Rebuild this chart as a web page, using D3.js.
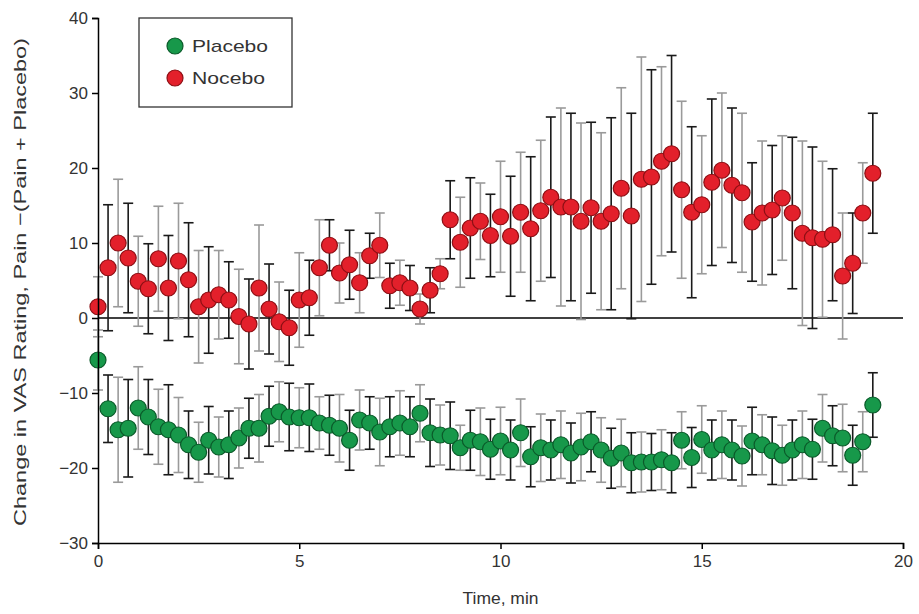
<!DOCTYPE html>
<html>
<head>
<meta charset="utf-8">
<script src="https://cdn.jsdelivr.net/npm/d3@7"></script>
<style>
  body { margin: 0; background: #fff; }
  svg { display: block; font-family: "Liberation Sans Narrow", "Liberation Sans", Arial, sans-serif; }
  .axis path, .axis line { stroke: #000; stroke-width: 1.5; }
  .axis text { font-size: 17px; fill: #333; }
  .axis-labels { font-size: 17px; fill: #333; }
</style>
</head>
<body>
<svg width="919" height="614"></svg>
<script>
// time points (min)
const times = [0, 0.25, 0.5, 0.75, 1, 1.25, 1.5, 1.75, 2, 2.25, 2.5, 2.75, 3, 3.25, 3.5, 3.75,
    4, 4.25, 4.5, 4.75, 5, 5.25, 5.5, 5.75, 6, 6.25, 6.5, 6.75, 7, 7.25, 7.5, 7.75,
    8, 8.25, 8.5, 8.75, 9, 9.25, 9.5, 9.75, 10, 10.25, 10.5, 10.75, 11, 11.25, 11.5, 11.75,
    12, 12.25, 12.5, 12.75, 13, 13.25, 13.5, 13.75, 14, 14.25, 14.5, 14.75, 15, 15.25, 15.5, 15.75,
    16, 16.25, 16.5, 16.75, 17, 17.25, 17.5, 17.75, 18, 18.25, 18.5, 18.75, 19, 19.25];

// Nocebo means and error
const nocebo = [1.5, 6.7, 10, 8, 4.9, 3.9, 7.9, 4, 7.6, 5.1, 1.5, 2.4, 3.1, 2.4, 0.2, -0.8,
    4, 1.2, -0.5, -1.3, 2.4, 2.7, 6.7, 9.7, 6, 7.1, 4.7, 8.3, 9.7, 4.3, 4.7, 4,
    1.2, 3.7, 5.9, 13.1, 10.1, 12, 12.9, 11, 13.5, 10.9, 14.1, 11.9, 14.3, 16.1, 14.8, 14.8,
    12.9, 14.7, 12.9, 13.9, 17.3, 13.6, 18.5, 18.8, 20.9, 21.9, 17.1, 14.1, 15.1, 18.1, 19.7, 17.7,
    16.7, 12.8, 14, 14.4, 16, 14, 11.3, 10.7, 10.5, 11.1, 5.6, 7.3, 14, 19.3];
const noceboErr = [4, 8.4, 8.5, 7.3, 6, 6, 7, 7, 7.7, 7.6, 7.5, 7.1, 5.9, 5.1, 6.3, 6,
    8.4, 6, 5.3, 5, 6.3, 5, 6.4, 3.4, 4, 4.6, 4, 3, 4.3, 3, 3, 3,
    2, 3, 2, 5.2, 6, 6.7, 5.1, 5.5, 7.4, 8, 8, 9.6, 9.4, 10.7, 13.2, 12.5,
    13.1, 11.4, 11.8, 12.8, 13.4, 13.7, 16.3, 14.3, 12.6, 13.1, 11.8, 11.4, 9.2, 11.1, 10.3, 10.3,
    10.6, 7.9, 9.6, 8.6, 8.3, 10.1, 12.3, 12.1, 10.4, 8.8, 8.4, 6.7, 6.7, 8];

// Placebo means and error
const placebo = [-5.6, -12.1, -14.9, -14.7, -12, -13.2, -14.5, -14.9, -15.6, -16.9, -17.9, -16.3, -17.2, -16.9, -16, -14.7,
    -14.7, -13.1, -12.5, -13.2, -13.3, -13.3, -14, -14.3, -14.7, -16.3, -13.6, -14, -15.2, -14.5, -14, -14.5,
    -12.7, -15.3, -15.6, -15.7, -17.3, -16.3, -16.5, -17.5, -16.4, -17.6, -15.3, -18.5, -17.3, -17.6, -16.9, -18,
    -17.2, -16.5, -17.6, -18.7, -18, -19.3, -19.2, -19.2, -18.9, -19.3, -16.3, -18.6, -16.2, -17.6, -16.9, -17.6,
    -18.4, -16.4, -16.9, -17.7, -18.3, -17.6, -16.9, -17.5, -14.7, -15.7, -16, -18.3, -16.5, -11.6];
const placeboErr = [4, 4.5, 7, 6.5, 5.5, 5, 5, 6, 5, 4.5, 4, 4.5, 4, 4.5, 4, 4,
    4.5, 4, 4, 4.5, 4, 4.5, 3.5, 4, 4.5, 4, 4, 3.5, 4.5, 4, 4.3, 4,
    3.8, 4.5, 4, 4.5, 3, 4, 4.5, 4, 4.5, 4, 4.5, 4, 4.5, 4, 4.5, 4,
    4.5, 4, 4.3, 4, 4.5, 4, 4, 3.8, 4, 4, 3.8, 4, 4.5, 4, 4.5, 4,
    4, 4.5, 4, 4.5, 4, 4, 4.5, 4, 4.5, 4, 4.5, 4, 4, 4.3];

const xTicks = [0, 5, 10, 15, 20];
const yTicks = [-30, -20, -10, 0, 10, 20, 30, 40];

const groups = [
    { name: "Placebo", values: placebo, errs: placeboErr, fill: "#17984a", stroke: "#0b5a2a" },
    { name: "Nocebo", values: nocebo, errs: noceboErr, fill: "#e3202b", stroke: "#8c0f14" }
];

const svg = d3.select("svg");

const x = d3.scaleLinear().domain([0, 20]).range([98, 903]);
const y = d3.scaleLinear().domain([-30, 40]).range([543, 18]);

// zero line
svg.append("line")
    .attr("x1", x(0)).attr("x2", x(20))
    .attr("y1", y(0)).attr("y2", y(0))
    .attr("stroke", "#000").attr("stroke-width", 1.5);

// error bars, alternating black / gray
groups.forEach(g => {
    const rows = times.map((t, i) => ({ t: t, v: g.values[i], e: g.errs[i], i: i }));
    const bars = svg.append("g").selectAll("g")
        .data(rows)
        .join("g")
        .attr("stroke", d => d.i % 2 ? "#1a1a1a" : "#9a9a9a")
        .attr("stroke-width", 1.6);

    bars.append("line")
        .attr("x1", d => x(d.t)).attr("x2", d => x(d.t))
        .attr("y1", d => y(d.v - d.e)).attr("y2", d => y(d.v + d.e));
    bars.append("line")
        .attr("x1", d => x(d.t) - 5).attr("x2", d => x(d.t) + 5)
        .attr("y1", d => y(d.v + d.e)).attr("y2", d => y(d.v + d.e));
    bars.append("line")
        .attr("x1", d => x(d.t) - 5).attr("x2", d => x(d.t) + 5)
        .attr("y1", d => y(d.v - d.e)).attr("y2", d => y(d.v - d.e));
});

// points
groups.forEach(g => {
    svg.append("g").selectAll("circle")
        .data(times.map((t, i) => ({ t: t, v: g.values[i] })))
        .join("circle")
        .attr("cx", d => x(d.t))
        .attr("cy", d => y(d.v))
        .attr("r", 8)
        .attr("fill", g.fill)
        .attr("stroke", g.stroke)
        .attr("stroke-width", 1.2);
});

// axes
svg.append("g")
    .attr("class", "axis")
    .attr("transform", "translate(0," + y(-30) + ")")
    .call(d3.axisBottom(x).tickValues(xTicks).tickSize(6).tickPadding(6).tickFormat(d3.format("d")));

svg.append("g")
    .attr("class", "axis")
    .attr("transform", "translate(" + x(0) + ",0)")
    .call(d3.axisLeft(y).tickValues(yTicks).tickSize(6).tickPadding(4)
        .tickFormat(d => d < 0 ? "\u2212" + Math.abs(d) : d));

// axis labels
svg.append("text")
    .attr("class", "axis-labels")
    .attr("x", x(10))
    .attr("y", 604)
    .attr("text-anchor", "middle")
    .attr("textLength", 76)
    .attr("lengthAdjust", "spacingAndGlyphs")
    .text("Time, min");

svg.append("text")
    .attr("class", "axis-labels")
    .attr("transform", "translate(26,282) rotate(-90)")
    .attr("text-anchor", "middle")
    .attr("textLength", 488)
    .attr("lengthAdjust", "spacingAndGlyphs")
    .text("Change in VAS Rating, Pain \u2212(Pain + Placebo)");

// legend
const legend = svg.append("g").attr("transform", "translate(139,18)");
legend.append("rect")
    .attr("width", 153).attr("height", 89)
    .attr("fill", "#fff").attr("stroke", "#333").attr("stroke-width", 1.3);
groups.forEach((g, i) => {
    legend.append("circle")
        .attr("cx", 36).attr("cy", 28 + i * 32)
        .attr("r", 8)
        .attr("fill", g.fill).attr("stroke", g.stroke).attr("stroke-width", 1.2);
    legend.append("text")
        .attr("x", 53).attr("y", 34 + i * 32)
        .attr("font-size", 17)
        .attr("fill", "#333")
        .attr("textLength", i ? 73 : 76)
        .attr("lengthAdjust", "spacingAndGlyphs")
        .text(g.name);
});
</script>
</body>
</html>
